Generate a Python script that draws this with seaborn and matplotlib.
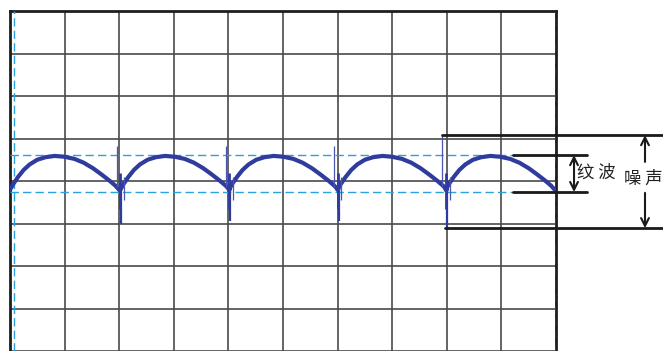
import matplotlib
matplotlib.use("Agg")
import numpy as np
import pandas as pd
import matplotlib.pyplot as plt
import seaborn as sns

# Screen units are scope divisions: 10 across, 8 visible down.
# One ripple arch (offset from trough, level)
arch_dx = [0.0, 0.06, 0.15, 0.25, 0.36, 0.50, 0.65, 0.82, 1.00, 1.18, 1.35, 1.52, 1.68, 1.82, 1.93, 2.00]
arch_y = [3.79, 3.93, 4.10, 4.26, 4.39, 4.50, 4.56, 4.59, 4.57, 4.52, 4.43, 4.30, 4.15, 4.01, 3.89, 3.79]
troughs = [0.0, 2.02, 4.01, 6.00, 7.98]

# switching spikes at each trough
spike_x = [2.02, 4.01, 6.00, 7.98]
spike_top = [4.82, 4.82, 4.82, 5.08]
spike_low = [3.00, 3.05, 3.05, 2.89]

# ripple / noise markers
ripple_hi, ripple_lo = 4.61, 3.74
noise_hi, noise_lo = 5.08, 2.89

WAVE = "#2f3c9e"
CYAN = "#2aa3dc"

rows = []
for t in troughs:
    for dx, y in zip(arch_dx, arch_y):
        rows.append({"t": t + dx, "v": y})
wave = pd.DataFrame(rows)

sns.set_style("white")
plt.rcParams["font.family"] = ["Noto Sans CJK SC", "DejaVu Sans"]

fig = plt.figure(figsize=(6.63, 3.51), dpi=100)
ax = fig.add_axes([10 / 663, 0, 546 / 663, 340 / 351])
ax.set_xlim(0, 10)
ax.set_ylim(0, 8)

# scope graticule
ax.set_xticks(range(0, 11))
ax.set_yticks(range(0, 9))
ax.grid(True, color="#4a4a4a", lw=1.2)
ax.tick_params(length=0, labelbottom=False, labelleft=False)
for side in ["left", "top", "right"]:
    ax.spines[side].set_color("#1e1e1e")
    ax.spines[side].set_linewidth(2.0)
ax.spines["bottom"].set_visible(False)

# cyan cursors
for y in [ripple_hi, ripple_lo]:
    ax.axhline(y, color=CYAN, lw=1.0, dashes=(6, 3), zorder=3)
ax.axvline(0.07, color=CYAN, lw=1.0, dashes=(6, 3), zorder=3)
ax.axvline(10.0, color=CYAN, lw=1.0, dashes=(6, 3), zorder=4)

# ripple trace
sns.lineplot(data=wave, x="t", y="v", sort=False, color=WAVE, lw=3.0,
             ax=ax, zorder=5, legend=False)

# spikes
for x, top, low in zip(spike_x, spike_top, spike_low):
    ax.vlines(x - 0.06, 3.85, top, color="#4a56b0", lw=0.9, zorder=5)
    ax.vlines(x, 3.35, 4.2, color=WAVE, lw=2.0, zorder=5)
    ax.vlines(x + 0.02, low, 3.9, color=WAVE, lw=1.6, zorder=5)
    ax.vlines(x + 0.07, 3.55, 4.1, color="#4a56b0", lw=0.9, zorder=5)

# ripple and noise reference lines
line_kw = dict(color="#1a1a1a", lw=2.0, clip_on=False, zorder=6)
ax.plot([7.91, 11.96], [noise_hi, noise_hi], **line_kw)
ax.plot([7.97, 11.96], [noise_lo, noise_lo], **line_kw)
ax.plot([9.21, 10.57], [ripple_hi, ripple_hi], **line_kw)
ax.plot([9.21, 10.57], [ripple_lo, ripple_lo], **line_kw)

arrow_kw = dict(color="#1a1a1a", lw=1.5, shrinkA=0, shrinkB=0, mutation_scale=14)
ax.annotate("", xy=(10.33, ripple_hi), xytext=(10.33, ripple_lo),
            arrowprops=dict(arrowstyle="<->", **arrow_kw), annotation_clip=False)
ax.annotate("", xy=(11.63, noise_hi), xytext=(11.63, 4.45),
            arrowprops=dict(arrowstyle="->", **arrow_kw), annotation_clip=False)
ax.annotate("", xy=(11.63, noise_lo), xytext=(11.63, 3.72),
            arrowprops=dict(arrowstyle="->", **arrow_kw), annotation_clip=False)

ax.text(10.73, 4.19, "纹 波", ha="center", va="center", fontsize=12.5,
        color="#222222", clip_on=False)
ax.text(11.6, 4.05, "噪 声", ha="center", va="center", fontsize=12.5,
        color="#222222", clip_on=False)

fig.savefig("out.png", dpi=100)
